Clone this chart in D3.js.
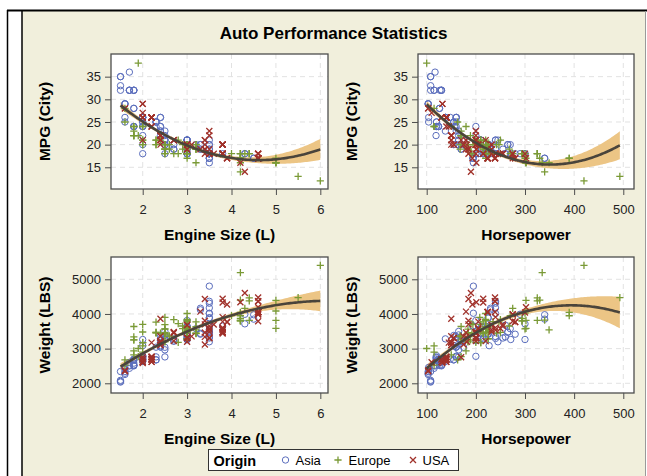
<!DOCTYPE html>
<html>
<head>
<meta charset="utf-8">
<script src="https://cdn.jsdelivr.net/npm/d3@7"></script>
<style>
  html, body { margin: 0; padding: 0; background: #fff; }
  svg { display: block; }
</style>
</head>
<body>
<div id="graph"></div>
<script>
// sashelp.cars style data: sedans + minivans, by origin
const asiaEngine = [3.5,3.5,2.4,3.2,2.0, 1.7,1.7,1.7,2.4,2.4,1.7,2.0,3.0,3.0,3.5,3.5, 1.6,1.6,1.6,2.0,2.0,2.0,2.7,2.7,3.5,3.5,
  3.5,3.5,3.5,3.5,4.5,4.5, 2.4,2.7,1.6,1.6,1.8,1.8,1.8,3.5,3.5, 3.0,3.0,3.0,3.0,4.3,4.3, 2.0,2.3,2.3,3.0,
  2.0,2.0,2.4,2.0,3.5,3.8,2.0, 1.8,1.8,2.5,2.5,3.5,3.5,3.5,3.5,3.5, 1.5, 2.5,2.5,2.5,2.5,3.0,3.0,2.0,2.5,
  2.3,2.3,2.0,2.0,2.5, 1.8,1.8,1.8,1.5,1.5,1.5,2.4,3.0,2.4,3.3,3.0,3.0,3.3,3.3,3.0,3.3];
const asiaHorsepower = [225,225,200,270,200, 115,117,115,160,160,127,160,240,240,240,240, 103,103,103,138,138,138,170,170,194,194,
  260,280,260,255,340,340, 138,170,104,104,124,124,124,195,195, 225,215,215,220,300,290, 148,160,160,200,
  120,120,160,120,205,230,271, 126,126,175,165,245,240,240,265,265, 108, 165,165,165,165,212,212,227,300,
  155,155,119,119,155, 130,130,130,108,108,108,157,210,157,225,210,210,225,230,210,230];
const asiaMPG = [18,18,22,20,24, 32,36,32,26,26,32,26,21,21,18,18, 29,29,29,26,26,26,19,19,17,17,
  18,18,18,19,17,17, 23,20,26,25,24,24,24,17,16, 20,18,18,18,18,18, 26,25,24,18,
  25,25,23,24,18,18,18, 28,28,21,23,21,19,18,20,20, 32, 22,21,21,20,19,19,20,18,
  25,25,24,22,20, 32,32,32,35,33,35,24,21,24,20,21,21,20,19,21,19];
const asiaWeight = [3880,3893,3230,3575,2778, 2432,2500,2513,3047,3047,2601,2782,3349,3294,4310,4365, 2255,2290,2339,2635,2635,2698,3217,3217,3651,3651,
  3336,3416,3677,3306,3851,3977, 3281,3279,2403,2458,2661,2686,2697,4021,4802, 3417,3285,3255,3649,3715,3990, 2696,2762,3042,3812,
  2656,2795,3351,2744,3549,3649,3263, 2513,2581,3039,2761,3197,4012,4175,3473,3476, 2340, 2965,3285,3395,3495,3630,3630,3085,3263,
  2676,2676,2701,2756,3380, 2502,2524,2524,2035,2085,2055,3086,3296,3175,3417,3439,3362,3439,4120,3439,4165];

const europeEngine = [1.8,1.8,3.0,3.0,3.0,3.0,3.0,3.0,3.0,2.7,4.2,4.2,4.2, 2.5,2.5,2.5,2.5,3.0,3.0,3.0,2.5,3.0,3.0,4.4,4.4,4.4,
  2.5,3.0,3.0,4.2,4.2,4.2,4.2,4.2, 1.8,3.2,2.6,2.6,3.2,3.2,3.2,5.0,3.2,5.0,4.3,5.0,5.0,5.5,3.2, 1.6,1.6,
  2.0,2.0,2.3,2.3,2.0,2.0, 2.0,1.8,1.9,1.8,2.8,2.0,1.8,2.8,4.0,4.2,6.0, 1.9,2.5,2.3,2.5,2.9,2.5,2.4,2.3,2.9];
const europeHorsepower = [170,170,220,220,220,220,220,220,220,250,300,330,340, 184,184,184,184,225,225,225,184,225,225,325,325,325,
  192,227,235,294,390,294,294,390, 189,215,168,168,215,215,215,302,221,302,275,302,302,493,349, 115,163,
  210,210,220,250,210,210, 115,180,100,150,200,115,170,190,270,335,420, 170,208,247,300,208,194,197,242,268];
const europeMPG = [22,23,20,17,18,20,18,20,18,18,17,17,14, 20,20,19,19,20,20,20,19,19,20,18,18,18,
  18,18,18,18,17,18,18,17, 22,19,20,19,20,19,20,17,19,16,18,16,16,13,16, 28,25,
  20,20,21,21,21,21, 24,24,38,24,21,24,22,18,18,16,12, 22,20,20,18,20,20,21,20,19];
const europeWeight = [3252,3638,3462,3583,3627,3561,3842,3814,4013,3836,4024,4399,3825, 3219,3197,3560,3461,3285,3285,3483,3428,3616,3472,3814,4376,4464,
  3428,3516,3777,3874,4046,3803,3803,3948, 3250,3430,3360,3360,3450,3450,3770,3585,3635,3815,4160,4390,4085,4473,3540, 2524,2678,
  3175,3175,3470,3470,3480,3700, 2897,2934,3003,2820,3179,3082,3338,3721,3953,5194,5399, 2767,3903,3766,3571,3576,3691,3450,3450,3653];

const usaEngine = [3.1,3.8,3.8,3.8,3.8,3.8,3.8, 3.6,4.6,4.6,4.6, 1.6,1.6,2.2,2.2,2.2,3.4,2.2,3.5,3.4,3.8,3.8,3.5,3.8,4.3,3.4,
  2.4,2.4,2.4,2.4,2.7,3.5,2.7,3.5,2.4,3.5,2.7,3.3,3.8, 2.0,2.0,2.7,2.4,2.4,3.5,2.4,3.8,
  2.0,2.0,2.0,2.0,2.0,3.0,3.0,4.6,4.6,4.6,3.9, 3.0,3.0,3.9,3.9,4.6,4.6,4.6, 4.6,4.6,4.6,3.0,3.0,4.6,4.2,
  2.2,3.4,3.8,3.8,4.6,3.4,3.4, 2.2,2.2,2.2,2.2,2.2,3.0];
const usaHorsepower = [175,205,200,240,205,205,240, 255,275,300,275, 103,103,140,140,140,180,145,200,180,200,240,200,200,190,185,
  150,150,220,150,200,250,200,232,150,255,200,180,215, 132,132,200,150,150,232,150,215,
  130,110,130,130,170,155,201,224,224,239,193, 232,232,280,280,239,239,239, 224,224,224,155,201,302,201,
  140,175,200,200,275,185,185, 140,140,140,140,140,182];
const usaMPG = [20,20,20,18,20,20,18, 18,18,18,18, 28,28,26,26,26,21,24,22,21,20,18,23,18,14,19,
  22,22,21,22,21,18,21,19,22,18,21,19,18, 29,29,21,21,21,18,20,18,
  26,27,26,26,21,20,19,17,17,17,17, 20,20,17,17,17,17,17, 17,17,17,20,19,17,16,
  24,20,20,20,17,19,18, 26,26,26,26,26,20];
const usaWeight = [3353,3567,3461,3536,3591,3778,3909, 3694,3984,4044,3992, 2370,2348,2617,2676,2617,3465,3174,3297,3340,3476,3606,3315,3434,4605,3699,
  3101,3105,3217,3173,3222,3581,3479,3548,3357,3650,3448,4068,4331, 2581,2626,3469,3175,3182,3487,3862,4440,
  2612,2606,2691,2691,2750,3306,3313,4057,4057,4057,4275, 3681,3681,3768,3768,4369,4369,4474, 4052,4052,4052,3308,3315,4195,4340,
  2771,3118,3477,3484,3790,3803,4431, 2692,2692,2692,2751,2751,3197];

const origins = ["Asia", "Europe", "USA"];
const engineTicks = [2, 3, 4, 5, 6];
const horsepowerTicks = [100, 200, 300, 400, 500];
const mpgTicks = [15, 20, 25, 30, 35];
const weightTicks = [2000, 3000, 4000, 5000];

const cars = {
  Asia: { engine: asiaEngine, hp: asiaHorsepower, mpg: asiaMPG, weight: asiaWeight },
  Europe: { engine: europeEngine, hp: europeHorsepower, mpg: europeMPG, weight: europeWeight },
  USA: { engine: usaEngine, hp: usaHorsepower, mpg: usaMPG, weight: usaWeight },
};

const w = 647;
const h = 476;
const font = '"Liberation Sans", Arial, Helvetica, sans-serif';
const colors = { Asia: "#5b6ebd", Europe: "#7a9a36", USA: "#a0312a" };
const tCrit = 1.969;

const vars = {
  engine: { domain: [1.286, 6.173], ticks: engineTicks, label: "Engine Size (L)" },
  hp: { domain: [82.3, 521.8], ticks: horsepowerTicks, label: "Horsepower" },
  mpg: { domain: [10.21, 40.0], ticks: mpgTicks, label: "MPG (City)" },
  weight: { domain: [1720, 5643], ticks: weightTicks, label: "Weight (LBS)" },
};

const panels = [
  { xv: "engine", yv: "mpg", left: 111, top: 54, pw: 217, ph: 135 },
  { xv: "hp", yv: "mpg", left: 418, top: 54, pw: 216, ph: 135 },
  { xv: "engine", yv: "weight", left: 111, top: 257, pw: 217, ph: 136 },
  { xv: "hp", yv: "weight", left: 418, top: 257, pw: 216, ph: 136 },
];

const svg = d3.select("#graph").append("svg").attr("width", w).attr("height", h);

// page frame
svg.append("rect").attr("x", 22).attr("y", 11).attr("width", 623).attr("height", 470).attr("fill", "#f1efdc");
svg.append("line").attr("x1", 7.5).attr("x2", 7.5).attr("y1", 10).attr("y2", h).attr("stroke", "#000").attr("stroke-width", 1.5);
svg.append("line").attr("x1", 22).attr("x2", 22).attr("y1", 11).attr("y2", h).attr("stroke", "#000").attr("stroke-width", 1.5);
svg.append("line").attr("x1", 7).attr("x2", w).attr("y1", 10.5).attr("y2", 10.5).attr("stroke", "#000").attr("stroke-width", 2);
svg.append("line").attr("x1", 645.5).attr("x2", 645.5).attr("y1", 11).attr("y2", h).attr("stroke", "#9a9a9a").attr("stroke-width", 1);

svg.append("text").attr("x", 333.5).attr("y", 39).attr("text-anchor", "middle")
  .attr("font-family", font).attr("font-weight", "bold").attr("font-size", 17).attr("fill", "#000")
  .text("Auto Performance Statistics");

function invert3(m) {
  const [a, b, c] = m[0], [d, e, f] = m[1], [g, hh, i] = m[2];
  const A = e * i - f * hh, B = -(d * i - f * g), C = d * hh - e * g;
  const det = a * A + b * B + c * C;
  return [
    [A / det, -(b * i - c * hh) / det, (b * f - c * e) / det],
    [B / det, (a * i - c * g) / det, -(a * f - c * d) / det],
    [C / det, -(a * hh - b * g) / det, (a * e - b * d) / det],
  ];
}

// quadratic regression with 95% confidence limits for the mean
function fitQuad(xs, ys) {
  const n = xs.length;
  const mx = d3.mean(xs), sx = d3.deviation(xs);
  const z = xs.map((v) => (v - mx) / sx);
  const S = [[0, 0, 0], [0, 0, 0], [0, 0, 0]];
  const b = [0, 0, 0];
  z.forEach((zi, i) => {
    const v = [1, zi, zi * zi];
    for (let j = 0; j < 3; j++) {
      b[j] += v[j] * ys[i];
      for (let k = 0; k < 3; k++) S[j][k] += v[j] * v[k];
    }
  });
  const inv = invert3(S);
  const beta = [0, 1, 2].map((j) => inv[j][0] * b[0] + inv[j][1] * b[1] + inv[j][2] * b[2]);
  const pred = (zi) => beta[0] + beta[1] * zi + beta[2] * zi * zi;
  const sse = d3.sum(z, (zi, i) => (ys[i] - pred(zi)) ** 2);
  const s2 = sse / (n - 3);
  return (x) => {
    const zi = (x - mx) / sx;
    const v = [1, zi, zi * zi];
    let q = 0;
    for (let j = 0; j < 3; j++) for (let k = 0; k < 3; k++) q += v[j] * inv[j][k] * v[k];
    const se = Math.sqrt(s2 * q);
    const f = pred(zi);
    return { x, fit: f, lo: f - tCrit * se, hi: f + tCrit * se };
  };
}

const symbol = {
  Asia: (g, c) => g.append("circle").attr("r", 3.2).attr("fill", "none").attr("stroke", c).attr("stroke-width", 1),
  Europe: (g, c) => g.append("path").attr("d", "M-3.6,0H3.6M0,-3.6V3.6").attr("stroke", c).attr("stroke-width", 1.3),
  USA: (g, c) => g.append("path").attr("d", "M-3,-3L3,3M-3,3L3,-3").attr("stroke", c).attr("stroke-width", 1.3),
};

panels.forEach((p) => {
  const xs = d3.scaleLinear().domain(vars[p.xv].domain).range([p.left, p.left + p.pw]);
  const ys = d3.scaleLinear().domain(vars[p.yv].domain).range([p.top + p.ph, p.top]);
  const g = svg.append("g");

  g.append("rect").attr("x", p.left).attr("y", p.top).attr("width", p.pw).attr("height", p.ph).attr("fill", "#fff");

  // grid
  g.selectAll(".gx").data(vars[p.xv].ticks).enter().append("line")
    .attr("x1", (d) => xs(d)).attr("x2", (d) => xs(d)).attr("y1", p.top).attr("y2", p.top + p.ph)
    .attr("stroke", "#e2e2e2").attr("stroke-dasharray", "5,4");
  g.selectAll(".gy").data(vars[p.yv].ticks).enter().append("line")
    .attr("y1", (d) => ys(d)).attr("y2", (d) => ys(d)).attr("x1", p.left).attr("x2", p.left + p.pw)
    .attr("stroke", "#e2e2e2").attr("stroke-dasharray", "5,4");

  // fit and band
  const allX = origins.flatMap((o) => cars[o][p.xv]);
  const allY = origins.flatMap((o) => cars[o][p.yv]);
  const model = fitQuad(allX, allY);
  const [x0, x1] = d3.extent(allX);
  const curve = d3.range(0, 121).map((i) => model(x0 + ((x1 - x0) * i) / 120));

  g.append("path").datum(curve)
    .attr("d", d3.area().x((d) => xs(d.x)).y0((d) => ys(d.lo)).y1((d) => ys(d.hi)))
    .attr("fill", "#ecc585");

  origins.forEach((o) => {
    const c = cars[o];
    c[p.xv].forEach((xv, i) => {
      const m = g.append("g").attr("transform", `translate(${xs(xv)},${ys(c[p.yv][i])})`);
      symbol[o](m, colors[o]);
    });
  });

  g.append("path").datum(curve)
    .attr("d", d3.line().x((d) => xs(d.x)).y((d) => ys(d.fit)))
    .attr("fill", "none").attr("stroke", "#4a443b").attr("stroke-width", 2.6);

  g.append("rect").attr("x", p.left).attr("y", p.top).attr("width", p.pw).attr("height", p.ph)
    .attr("fill", "none").attr("stroke", "#4d4d4d").attr("stroke-width", 1.3);

  // axes
  const ax = g.append("g").attr("transform", `translate(0,${p.top + p.ph})`)
    .call(d3.axisBottom(xs).tickValues(vars[p.xv].ticks).tickFormat(d3.format("d")).tickSize(6).tickPadding(10));
  const ay = g.append("g").attr("transform", `translate(${p.left},0)`)
    .call(d3.axisLeft(ys).tickValues(vars[p.yv].ticks).tickFormat(d3.format("d")).tickSize(6).tickPadding(4));
  [ax, ay].forEach((a) => {
    a.select(".domain").remove();
    a.selectAll("line").attr("stroke", "#4d4d4d");
    a.selectAll("text").attr("font-family", font).attr("font-size", 13).attr("fill", "#222");
  });

  g.append("text").attr("x", p.left + p.pw / 2).attr("y", p.top + p.ph + 51).attr("text-anchor", "middle")
    .attr("font-family", font).attr("font-weight", "bold").attr("font-size", 15.5).attr("fill", "#000")
    .text(vars[p.xv].label);
  g.append("text").attr("transform", `translate(${p.left - 61},${p.top + p.ph / 2}) rotate(-90)`)
    .attr("text-anchor", "middle")
    .attr("font-family", font).attr("font-weight", "bold").attr("font-size", 15.5).attr("fill", "#000")
    .text(vars[p.yv].label);
});

// legend
const legend = svg.append("g").attr("transform", "translate(208.5,449.5)");
legend.append("rect").attr("width", 250).attr("height", 21).attr("fill", "#fff").attr("stroke", "#333");
legend.append("text").attr("x", 5).attr("y", 16).attr("font-family", font).attr("font-weight", "bold")
  .attr("font-size", 14.5).text("Origin");
const items = [
  { o: "Asia", sx: 77, tx: 87 },
  { o: "Europe", sx: 129.5, tx: 140 },
  { o: "USA", sx: 204.5, tx: 214 },
];
items.forEach((it) => {
  const m = legend.append("g").attr("transform", `translate(${it.sx},10.5)`);
  symbol[it.o](m, colors[it.o]);
  legend.append("text").attr("x", it.tx).attr("y", 15.5).attr("font-family", font)
    .attr("font-size", 13).attr("fill", "#000").text(it.o);
});
</script>
</body>
</html>
